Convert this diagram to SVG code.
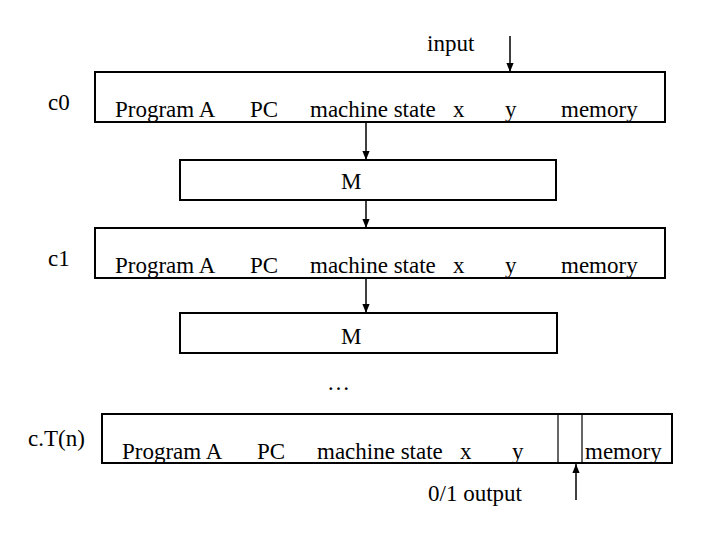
<svg xmlns="http://www.w3.org/2000/svg" width="720" height="540" viewBox="0 0 720 540">
<style>
text{font-family:"Liberation Serif","Times New Roman",serif;font-size:23px;fill:#000}
.b{fill:none;stroke:#000;stroke-width:2}
.c{stroke:#000;stroke-width:1.5;fill:none;marker-end:url(#a)}
</style>
<defs><marker id="a" viewBox="0 0 10 10" refX="10" refY="5" markerWidth="6" markerHeight="6" orient="auto"><path d="M0,1L10,5L0,9z" fill="#000"/></marker></defs>
<rect width="720" height="540" fill="#fff"/>
<g id="row0"><text x="48" y="110">c0</text><rect class="b" x="95" y="72" width="570" height="50"/>
<text x="115" y="117">Program A</text><text x="250" y="117">PC</text><text x="310" y="117">machine state</text><text x="453" y="117">x</text><text x="505" y="117">y</text><text x="561" y="117">memory</text></g>
<g id="m1"><rect class="b" x="180" y="160" width="376" height="40"/><text x="341" y="189">M</text></g>
<g id="row1"><text x="48" y="266">c1</text><rect class="b" x="95" y="228" width="570" height="50"/>
<text x="115" y="273">Program A</text><text x="250" y="273">PC</text><text x="310" y="273">machine state</text><text x="453" y="273">x</text><text x="505" y="273">y</text><text x="561" y="273">memory</text></g>
<g id="m2"><rect class="b" x="180" y="313" width="377" height="40"/><text x="341" y="344">M</text></g>
<text x="327" y="390">…</text>
<g id="rowT"><text x="28" y="446">c.T(n)</text><rect class="b" x="102" y="414" width="570" height="49"/>
<line x1="558" y1="414" x2="558" y2="463" stroke="#000" stroke-width="1.2"/><line x1="582" y1="414" x2="582" y2="463" stroke="#000" stroke-width="1.2"/>
<text x="122" y="459">Program A</text><text x="257" y="459">PC</text><text x="317" y="459">machine state</text><text x="460" y="459">x</text><text x="512" y="459">y</text><text x="585" y="459">memory</text></g>
<text x="427" y="51">input</text>
<text x="428" y="501">0/1 output</text>
<g id="connectors">
<line class="c" x1="510" y1="36" x2="510" y2="72"/>
<line class="c" x1="366" y1="122" x2="366" y2="160"/>
<line class="c" x1="366" y1="200" x2="366" y2="228"/>
<line class="c" x1="366" y1="278" x2="366" y2="313"/>
<line class="c" x1="576" y1="500" x2="576" y2="464"/>
</g>
</svg>
